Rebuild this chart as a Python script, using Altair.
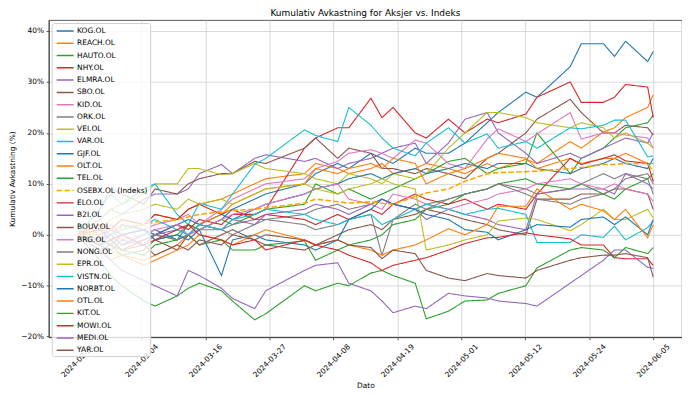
import altair as alt
import pandas as pd

dates = ["2024-02-22", "2024-02-26", "2024-02-28", "2024-03-01", "2024-03-05", "2024-03-07",
         "2024-03-11", "2024-03-13", "2024-03-15", "2024-03-19", "2024-03-21", "2024-03-25",
         "2024-03-27", "2024-04-03", "2024-04-05", "2024-04-09", "2024-04-11", "2024-04-15",
         "2024-04-17", "2024-04-19", "2024-04-23", "2024-04-25", "2024-04-29", "2024-05-02",
         "2024-05-06", "2024-05-08", "2024-05-13", "2024-05-15", "2024-05-21", "2024-05-23",
         "2024-05-27", "2024-05-29", "2024-05-31", "2024-06-04", "2024-06-05"]

KOG = [0, -1, 0, -2, 0, 1, -1, 2, 1, 3, 5, 7, 8, 10, 12, 14, 13, 16, 15, 14, 17, 16, 16, 18, 22, 24, 28, 27, 33, 37.5, 37.5, 35, 38, 34, 36]
REACH = [0, 2, 1, 3, 2, 4, 3, 5, 6, 7, 8, 10, 11, 12, 14, 13, 12, 13, 14, 12, 13, 14, 13, 12, 14, 13, 14.8, 14, 18.3, 17, 20.2, 21, 23, 25, 27.5]
HAUTO = [0, -3, -2, -4, -3, -1, 0, 2, 1, 3, 2, 4, 5, 6, 10, 8, 9, 7, 8, 9, 11, 12, 14.4, 15, 12, 13, 14, 20, 12, 15, 17, 19, 21, 22, 23.5]
NHY = [0, -2, -1, -3, -1, 0, 2, 1, 3, 2, 4, 4, 5, 17, 19, 21, 21, 26.8, 23, 25, 20, 19, 22.7, 20, 22.7, 22, 23.7, 27, 30, 26, 26, 27, 29.5, 29, 23]
ELMRA = [0, 3, 5, 4, 7, 8, 8, 9, 12, 13.8, 12, 15, 15.7, 14.4, 15, 13, 14, 15, 16, 17, 18, 14, 18, 22.7, 24, 20, 16, 14, 16, 15, 17, 18, 19, 18, 20]
SBO = [0, 5, 9, 8, 6, 9, 8, 10, 11, 12, 12, 14.4, 14, 17, 19, 15, 17, 16, 13, 13, 12, 13, 12, 11, 15, 16, 20, 22.7, 26.6, 24, 20, 20, 21.5, 21, 19.6]
KID = [0, 1, 2, 0, 1, 2, 3, 4, 2, 5, 7, 9, 10, 11, 13, 14.4, 16, 16.7, 16, 15, 18.6, 18, 14, 13, 18.8, 20.8, 18.3, 19.8, 24, 18.8, 20, 20, 19.6, 19, 17]
ORK = [0, 0, 1, 0, 1, 0, -1, 0, 1, 1, 2, 3, 3, 4, 5, 6, 5, 6, 7, 6, 5, 6, 7, 8, 9, 10, 9, 8, 9, 10, 12, 11, 12, 11, 8]
VEI = [0, 3, 5, 6, 8, 10, 10, 13, 13, 11.8, 12, 14, 13, 12, 11, 10, 12, 11, 10, 12, 11, 12, 17, 20, 24, 24, 23, 22, 21, 22, 21, 19, 20, 18, 17]
VAR = [0, 5, 8, 6, 9, 10, 4, 2, 6.2, 5, 8, 13.8, 15, 20.6, 19.5, 18.3, 25, 21.5, 19, 17, 15.5, 18, 21, 18, 19.8, 17, 18.3, 17, 21, 20.8, 21.5, 22.5, 22.5, 15.3, 15.5]
GJF = [0, 1, 0, 2, 1, 0, 2, 3, 2, 4, 3, 5, 6, 8, 9, 10, 11, 12, 11, 12, 13, 12, 13, 14, 13, 14, 14, 13, 12, 13, 14, 15, 14, 13, 15]
OLT = [0, -2, -3, -4, -5, -4, -2, 0, 2, 4, 6, 8, 9, 10, 13, 12, 13, 14, 13, 15, 14, 10, 12, 13, 15, 16, 15, 13, 15, 14, 15, 15, 16, 14, 14]
TEL = [0, -1, -2, -3, -4, -2, -1, 0, -2, -1, -3, -3, -2, -1.2, -5, -3, -2, -1, 0, 2, 3, 5, 6, 8, 9, 10, 11, 10, 9, 10, 8, 7, 9, 11, 12]
OSEBX = [0, 0.5, 1, 1.5, 2, 2.5, 3, 3.5, 4, 4.5, 4.8, 5, 5.3, 6.2, 7, 6.5, 6.2, 6.5, 6.2, 6, 7.5, 8.2, 9, 10.5, 12, 12.2, 12.4, 12.5, 13, 13.2, 13.8, 13.8, 14, 14, 12.4]
ELO = [0, 2, 1, 3, 2, 4, 3, 5, 6, 4, 5, 3, 4, 3, 2, 4, 3, 5, 4, 6, 8, 7, 6, 7, 5, 6, 5, 8, 15, 13.8, 15, 15.7, 14.5, 14, 10.5]
B2I = [0, -2, -3, -1, -2, 0, 1, 0, 2, 1, 3, 2, 4, 5, 6, 5, 4, 6, 7, 6, 5, 3, 5, 4, 3, 2, 1, 8, 9, 9, 9, 8, 12, 10, 9]
BOUV = [0, -1, -2, 0, 1, -1, -3, 0, -2, 0, 1, -1, 0, -1, -2, 0, 1, 2, 1, 3, 4, 5, 4, 3, 2, 1, 0, 7, 7, 8, 8, 9, 9, 8, 5]
BRG = [0, -1, 1, -1, 0, 1, 2, 0, 1, 3, 4, 5, 6, 8, 9, 10, 7, 6, 5, 8, 7, 6, 5, 6, 7, 8, 9, 10, 11, 10, 9, 10, 9, 8, 6.5]
NONG = [0, -1, 0, -2, -1, 0, -1, 0, 2, 1, 0, 2, 3, 2, 1, 2, 3, 4, -4, 3, 6, 5, 7, 8, 9, 10, 8, 7, 6, 7, 8, 9, 11, 12, 10]
EPR = [0, 1, 3, 4, 5, 6, 5, 7, 6, 7, 6, 8, 9, 10, 9, 8, 9, 10, 11, 10, 9, -3, -2, -1, 0, 2.7, 3.3, 3, 0.8, 2, 5, 3, 3, 5, 3.3]
VISTN = [0, -2, 0, 1, 2, 3, 1, 0, 2, 1, 3, 4, 5, 4, 3, 2, 3, 4, 2, 3, 5, 6, 5, 4, 5, 5.2, 4, -1.5, -1.5, 0, -0.5, 1.7, -1, 1.4, 2.7]
NORBT = [0, -2, -1, 0, 1, -1, 0, -1, 1, -8, -1, 0, -1, -2, -3, -1, 3, 5, 7, 6, 5, 4, 3, 1, 0.5, -1, 1, 2, 1.5, 3, 3.5, 2, 3.5, 0, 3]
OTL = [0, -3, -5, -4, -6, -5, -3, -2, 0, -1, -2, 0, 1, -1, -2, -1, -2, -3, -4, -3, -2, -1, 1.2, 0, 2, 5.6, 5.6, 9, 5, 6, 4.7, 3, 5, -0.6, 2]
KIT = [0, -5, -8, -10, -13, -14, -12, -10.5, -9.5, -11, -13, -16.7, -15.5, -10, -11, -9.5, -10, -7.5, -7, -8, -9.5, -16.5, -15, -13, -12.8, -11.5, -10, -6.5, -3, -2.5, -3, -4.5, -2.5, -3.7, -2.5]
MOWI = [0, 1, -1, 0, -2, -1, 1, 2, 0, -1, -2, -1, -3, -1, -2, -3, -4, -5.5, -7, -6, -5, -4.5, -3, -1.7, -0.6, -0.5, 0.4, 0, -0.8, -2, -2, -4.5, -4.7, -4.7, -6]
MEDI = [0, -3, -5, -7, -9, -10, -12, -7, -8, -10.5, -12.5, -14.5, -11, -7, -6, -5.5, -9.5, -11, -13, -15.3, -14, -14.5, -11.5, -12, -12.4, -13, -13.5, -14, -9.5, -8, -5, -3, -3, -6.4, -6.6]
YAR = [0, -2, -1, -3, -2, -4, -2, -3, -1, -2, 0, -1, -2, -3, -2, -1, -2, -2.5, -4.7, -3, -3.7, -7, -8.5, -9, -7.6, -8, -8.5, -7, -5, -4.5, -4, -4, -3.7, -4.5, -8.3]

INDEX_NAME = "OSEBX.OL (Indeks)"
series = [
    ("KOG.OL", KOG), ("REACH.OL", REACH), ("HAUTO.OL", HAUTO), ("NHY.OL", NHY),
    ("ELMRA.OL", ELMRA), ("SBO.OL", SBO), ("KID.OL", KID), ("ORK.OL", ORK),
    ("VEI.OL", VEI), ("VAR.OL", VAR), ("GJF.OL", GJF), ("OLT.OL", OLT),
    ("TEL.OL", TEL), (INDEX_NAME, OSEBX), ("ELO.OL", ELO), ("B2I.OL", B2I),
    ("BOUV.OL", BOUV), ("BRG.OL", BRG), ("NONG.OL", NONG), ("EPR.OL", EPR),
    ("VISTN.OL", VISTN), ("NORBT.OL", NORBT), ("OTL.OL", OTL), ("KIT.OL", KIT),
    ("MOWI.OL", MOWI), ("MEDI.OL", MEDI), ("YAR.OL", YAR),
]
for name, vals in series:
    if len(vals) != len(dates):
        raise ValueError(f"{name} has {len(vals)} values")

tab10 = ["#1f77b4", "#ff7f0e", "#2ca02c", "#d62728", "#9467bd",
         "#8c564b", "#e377c2", "#7f7f7f", "#bcbd22", "#17becf"]
names = [n for n, _ in series]
colors = []
dashes = []
k = 0
for n in names:
    if n == INDEX_NAME:
        colors.append("#ffa500")
        dashes.append([5.5, 2.4])
    else:
        colors.append(tab10[k % 10])
        dashes.append([1, 0])
        k += 1

rows = []
for name, vals in series:
    for d, v in zip(dates, vals):
        rows.append({"Dato": d, "Aksje": name, "Avkastning": v})
df = pd.DataFrame(rows)
df_stocks = df[df["Aksje"] != INDEX_NAME]
df_index = df[df["Aksje"] == INDEX_NAME]

t0 = pd.Timestamp(dates[0]).value // 10**6
t1 = pd.Timestamp(dates[-1]).value // 10**6
tick_vals = [t0 + (t1 - t0) * i / 9 for i in range(10)]
pad = 0.05 * (t1 - t0)
x_dom = [t0 - pad, t1 + pad]

FONT = "DejaVu Sans"
legend = alt.Legend(
    orient="top-left", offset=3, padding=2, zindex=1,
    symbolType="M-1.7,0H1.7", symbolSize=100, symbolStrokeWidth=1.5, symbolOffset=5.5,
    labelFontSize=7.5, labelFont=FONT, labelColor="black", labelOffset=6,
    rowPadding=2.35, fillColor="rgba(255,255,255,0.8)", strokeColor="#d0d0d0",
    cornerRadius=2, labelLimit=200,
)

x_enc = alt.X("Dato:T",
              scale=alt.Scale(type="utc", domain=x_dom),
              axis=alt.Axis(values=tick_vals,
                            labelExpr="utcFormat(datum.value, '%Y-%m-%d')",
                            labelAngle=-45, labelAlign="center", labelBaseline="middle",
                            labelPadding=21, tickSize=2.6, labelFontSize=7.5,
                            title="Dato", titleFontSize=7.5, titlePadding=3,
                            titleFontWeight="normal"))
y_enc = alt.Y("Avkastning:Q",
              scale=alt.Scale(domain=[-20.1, 42.15], nice=False, zero=False),
              axis=alt.Axis(values=[-20, -10, 0, 10, 20, 30, 40],
                            labelExpr="(datum.value < 0 ? '\u2212' + abs(datum.value) : datum.value) + '%'",
                            tickSize=2.6, labelPadding=2.6, labelFontSize=7.5,
                            title="Kumulativ Avkastning (%)", titleFontSize=7.5,
                            titlePadding=4.4, titleFontWeight="normal"))
color_enc = alt.Color("Aksje:N", scale=alt.Scale(domain=names, range=colors),
                      legend=legend, title=None)
dash_enc = alt.StrokeDash("Aksje:N", scale=alt.Scale(domain=names, range=dashes),
                          legend=legend, title=None)

stocks = alt.Chart(df_stocks).mark_line(strokeWidth=1.1).encode(
    x=x_enc, y=y_enc, color=color_enc, strokeDash=dash_enc)
index = alt.Chart(df_index).mark_line(strokeWidth=1.6).encode(
    x=x_enc, y=y_enc, color=color_enc, strokeDash=dash_enc)

chart = alt.layer(stocks, index).properties(
    width=637, height=319,
    padding={"left": 0, "top": 0, "right": 0, "bottom": 0},
    title=alt.TitleParams("Kumulativ Avkastning for Aksjer vs. Indeks", fontSize=9,
                          font=FONT, fontWeight="normal", anchor="middle", offset=2,
                          color="black"),
).configure(font=FONT).configure_axis(
    labelFont=FONT, titleFont=FONT, labelColor="black", titleColor="black",
    domainColor="#333333", tickColor="#333333", gridColor="#cfcfcf", gridWidth=0.8,
    domainWidth=0.8, tickWidth=0.8,
).configure_view(stroke="#333333", strokeWidth=0.8)

chart.save("out.html", embed_options={"renderer": "svg", "actions": False})
